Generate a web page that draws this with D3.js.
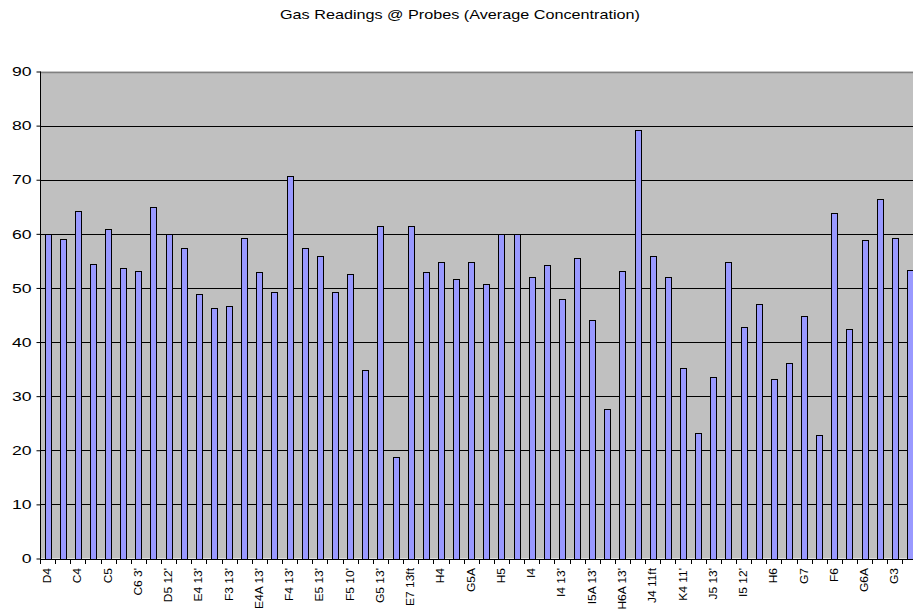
<!DOCTYPE html>
<html>
<head>
<meta charset="utf-8">
<script src="https://cdn.jsdelivr.net/npm/d3@7"></script>
<style>
  html, body { margin: 0; padding: 0; background: #fff; }
  svg { display: block; font-family: Arial, "Liberation Sans", sans-serif; }
</style>
</head>
<body>
<svg id="chart" width="913" height="609"></svg>
<script>
// ---- data ----
const title = "Gas Readings @ Probes (Average Concentration)";
// Category labels (only every other probe name is printed on the axis)
const categories = [
  "D4", "", "C4", "", "C5", "", "C6 3'", "", "D5 12'", "",
  "E4 13'", "", "F3 13'", "", "E4A 13'", "", "F4 13'", "", "E5 13'", "",
  "F5 10'", "", "G5 13'", "", "E7 13ft", "", "H4", "", "G5A", "",
  "H5", "", "I4", "", "I4 13'", "", "I5A 13'", "", "H6A 13'", "",
  "J4 11ft", "", "K4 11'", "", "J5 13'", "", "I5 12'", "", "H6", "",
  "G7", "", "F6", "", "G6A", "", "G3", ""
];
const values = [
  60.0, 59.0, 64.2, 54.5, 60.9, 53.7, 53.2, 65.0, 60.0, 57.3,
  48.8, 46.3, 46.6, 59.2, 52.9, 49.3, 70.7, 57.3, 55.9, 49.3,
  52.6, 34.8, 61.4, 18.8, 61.4, 52.9, 54.8, 51.6, 54.8, 50.7,
  60.0, 60.0, 52.1, 54.3, 48.0, 55.6, 44.1, 27.6, 53.2, 79.2,
  55.9, 52.1, 35.2, 23.2, 33.6, 54.8, 42.7, 47.1, 33.1, 36.1,
  44.9, 22.9, 63.9, 42.4, 58.9, 66.4, 59.2, 53.4
];
const yTicks = [0, 10, 20, 30, 40, 50, 60, 70, 80, 90];

// ---- layout ----
const svg = d3.select("#chart");
const mLeft = 40, mTop = 71.5, mBottom = 558.5;
const step = 15.13;
const mRight = mLeft + step * values.length;

const idx = values.map((d, i) => i);
const x = d3.scaleBand().domain(idx).range([mLeft, mRight]).paddingInner(0.6).paddingOuter(0.3);
const y = d3.scaleLinear().domain([0, 90]).range([mBottom, mTop]);

// title
svg.append("text")
  .attr("x", 460).attr("y", 19)
  .attr("text-anchor", "middle")
  .attr("font-size", 13.5)
  .attr("textLength", 360)
  .attr("lengthAdjust", "spacingAndGlyphs")
  .attr("fill", "#000")
  .text(title);

// plot background
svg.append("rect")
  .attr("x", mLeft).attr("y", mTop)
  .attr("width", mRight - mLeft).attr("height", mBottom - mTop)
  .attr("fill", "#C0C0C0");

// gridlines
svg.append("g").selectAll("line")
  .data(yTicks.filter(t => t > 0 && t < 90))
  .join("line")
  .attr("x1", mLeft).attr("x2", mRight)
  .attr("y1", d => Math.round(y(d)) + 0.5).attr("y2", d => Math.round(y(d)) + 0.5)
  .attr("stroke", "#000").attr("stroke-width", 1);

// top border
svg.append("line")
  .attr("x1", mLeft).attr("x2", mRight)
  .attr("y1", Math.round(y(90)) + 0.5).attr("y2", Math.round(y(90)) + 0.5)
  .attr("stroke", "#808080").attr("stroke-width", 1.5);

// bars
svg.append("g").selectAll("rect")
  .data(values)
  .join("rect")
  .attr("x", (d, i) => Math.round(x(i)) + 0.5)
  .attr("width", Math.round(x.bandwidth()))
  .attr("y", d => Math.round(y(d)) + 0.5)
  .attr("height", d => Math.round(y(0)) - Math.round(y(d)))
  .attr("fill", "#9999FF")
  .attr("stroke", "#000").attr("stroke-width", 1);

// y axis
const yAxis = d3.axisLeft(y).tickValues(yTicks).tickSize(4).tickPadding(5);
const gy = svg.append("g").attr("transform", `translate(${mLeft + 0.5},0)`).call(yAxis);
gy.selectAll("text")
  .attr("font-size", 13)
  .attr("fill", "#000")
  .attr("font-family", "Arial, 'Liberation Sans', sans-serif")
  .attr("textLength", d => String(d).length * 9.8)
  .attr("lengthAdjust", "spacingAndGlyphs");
gy.selectAll("line, path").attr("stroke", "#000");
gy.select(".domain").attr("d", `M0,${mTop}V${Math.round(mBottom) + 0.5}`);

// x axis: baseline + ticks at band boundaries
const boundaries = d3.range(values.length + 1).map(k => mLeft + k * x.step());
const gx = svg.append("g");
gx.append("line")
  .attr("x1", mLeft).attr("x2", mRight)
  .attr("y1", Math.round(mBottom) + 0.5).attr("y2", Math.round(mBottom) + 0.5)
  .attr("stroke", "#000");
gx.selectAll("line.tick")
  .data(boundaries)
  .join("line")
  .attr("class", "tick")
  .attr("x1", d => Math.round(d) + 0.5).attr("x2", d => Math.round(d) + 0.5)
  .attr("y1", Math.round(mBottom)).attr("y2", Math.round(mBottom) + 5)
  .attr("stroke", "#000");

// x labels (rotated)
gx.selectAll("text")
  .data(categories.map((c, i) => ({ c, i })).filter(d => d.c !== ""))
  .join("text")
  .attr("transform", d => `translate(${x(d.i) + x.bandwidth() / 2 + 3.5},568) rotate(-90) scale(1.2,1)`)
  .attr("text-anchor", "end")
  .attr("font-size", 10)
  .attr("fill", "#000")
  .text(d => d.c);
</script>
</body>
</html>
